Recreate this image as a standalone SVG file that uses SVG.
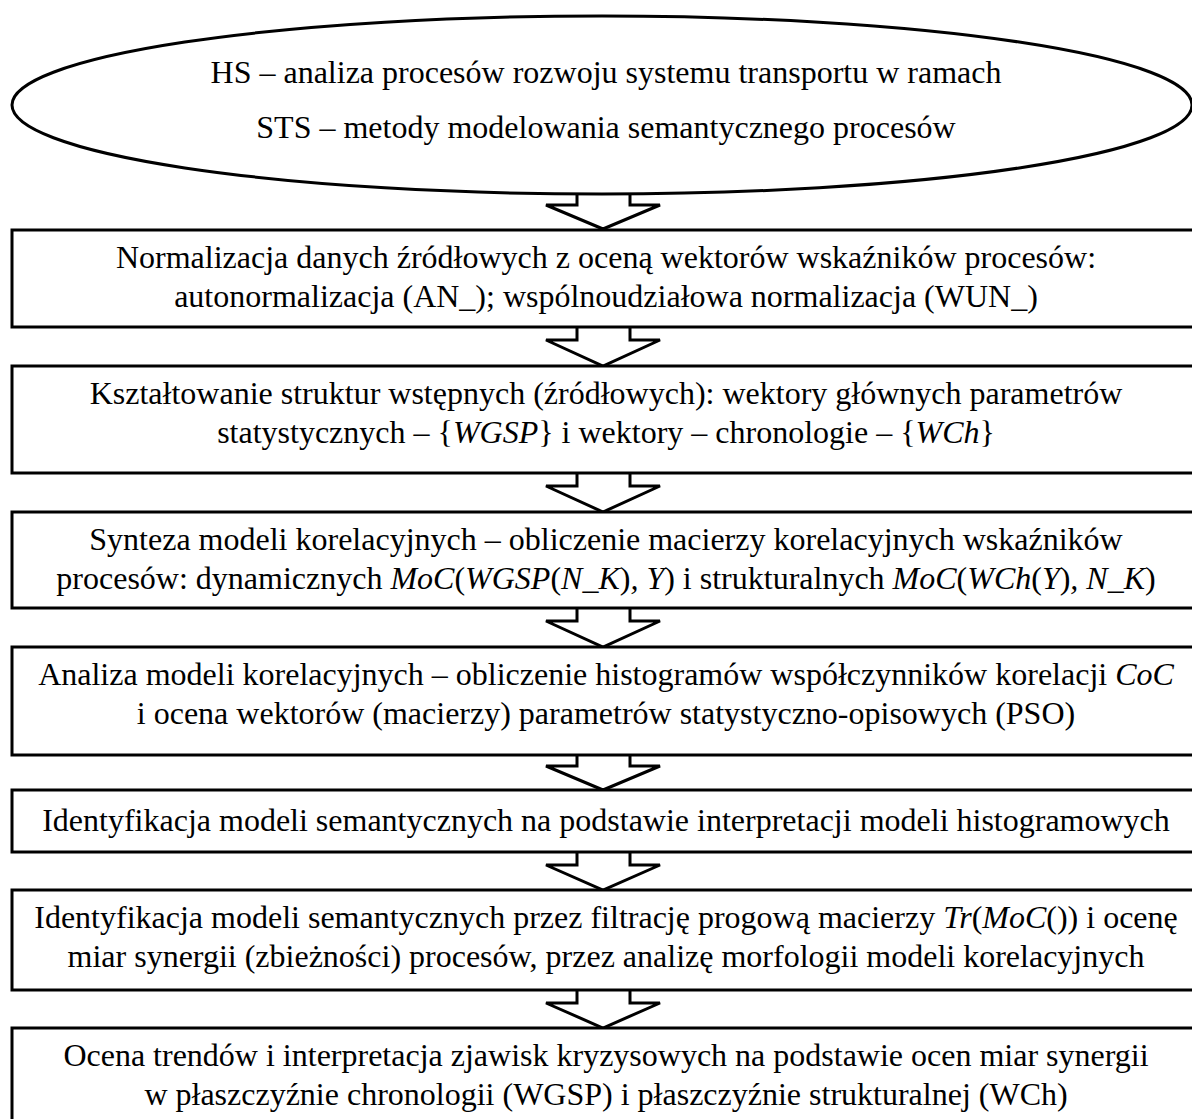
<svg xmlns="http://www.w3.org/2000/svg" width="1192" height="1119" viewBox="0 0 1192 1119">
<style>
.shape{fill:#fff;stroke:#000;stroke-width:3}
.arrow{fill:#fff;stroke:#000;stroke-width:3;stroke-linejoin:miter}
text{font-family:"Liberation Serif","Times New Roman",serif;font-size:32px;fill:#000;text-anchor:middle}
.i{font-style:italic}
</style>
<rect width="1192" height="1119" fill="#fff"/>
<g id="connectors">
<path class="arrow" d="M577,194 V205 H546 L603,229 L660,205 H630 V194"/>
<path class="arrow" d="M577,327 V340 H546 L603,366 L660,340 H630 V327"/>
<path class="arrow" d="M577,473 V486 H546 L603,512 L660,486 H630 V473"/>
<path class="arrow" d="M577,608 V621 H546 L603,647 L660,621 H630 V608"/>
<path class="arrow" d="M577,755 V766 H546 L603,790 L660,766 H630 V755"/>
<path class="arrow" d="M577,852 V865 H546 L603,890 L660,865 H630 V852"/>
<path class="arrow" d="M577,990 V1003 H546 L603,1028 L660,1003 H630 V990"/>
</g>
<g id="start">
<ellipse class="shape" cx="602" cy="105" rx="590" ry="89"/>
<text x="606" y="83">HS – analiza procesów rozwoju systemu transportu w ramach</text>
<text x="606" y="138">STS – metody modelowania semantycznego procesów</text>
</g>
<g id="step1">
<rect class="shape" x="12" y="230" width="1190" height="97"/>
<text x="606" y="268">Normalizacja danych źródłowych z oceną wektorów wskaźników procesów:</text>
<text x="606" y="307">autonormalizacja (AN_); wspólnoudziałowa normalizacja (WUN_)</text>
</g>
<g id="step2">
<rect class="shape" x="12" y="366" width="1190" height="107"/>
<text x="606" y="404">Kształtowanie struktur wstępnych (źródłowych): wektory głównych parametrów</text>
<text x="606" y="443">statystycznych – {<tspan class="i">WGSP</tspan>} i wektory – chronologie – {<tspan class="i">WCh</tspan>}</text>
</g>
<g id="step3">
<rect class="shape" x="12" y="512" width="1190" height="96"/>
<text x="606" y="550">Synteza modeli korelacyjnych – obliczenie macierzy korelacyjnych wskaźników</text>
<text x="606" y="589">procesów: dynamicznych <tspan class="i">MoC</tspan>(<tspan class="i">WGSP</tspan>(<tspan class="i">N_K</tspan>)<tspan class="i">, Y</tspan>) i strukturalnych <tspan class="i">MoC</tspan>(<tspan class="i">WCh</tspan>(<tspan class="i">Y</tspan>)<tspan class="i">, N_K</tspan>)</text>
</g>
<g id="step4">
<rect class="shape" x="12" y="647" width="1190" height="108"/>
<text x="606" y="685">Analiza modeli korelacyjnych – obliczenie histogramów współczynników korelacji <tspan class="i">CoC</tspan></text>
<text x="606" y="724">i ocena wektorów (macierzy) parametrów statystyczno-opisowych (PSO)</text>
</g>
<g id="step5">
<rect class="shape" x="12" y="790" width="1190" height="62"/>
<text x="606" y="831">Identyfikacja modeli semantycznych na podstawie interpretacji modeli histogramowych</text>
</g>
<g id="step6">
<rect class="shape" x="12" y="890" width="1190" height="100"/>
<text x="606" y="928">Identyfikacja modeli semantycznych przez filtrację progową macierzy <tspan class="i">Tr</tspan>(<tspan class="i">MoC</tspan>()) i ocenę</text>
<text x="606" y="967">miar synergii (zbieżności) procesów, przez analizę morfologii modeli korelacyjnych</text>
</g>
<g id="step7">
<rect class="shape" x="12" y="1028" width="1190" height="120"/>
<text x="606" y="1066">Ocena trendów i interpretacja zjawisk kryzysowych na podstawie ocen miar synergii</text>
<text x="606" y="1105">w płaszczyźnie chronologii (WGSP) i płaszczyźnie strukturalnej (WCh)</text>
</g>
</svg>
